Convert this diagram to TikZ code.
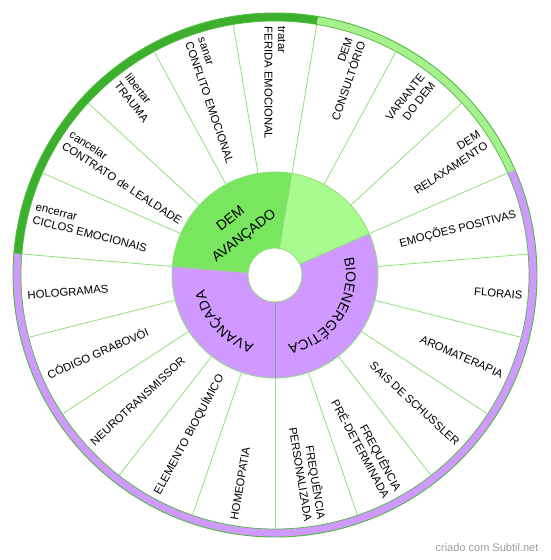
\documentclass[tikz,border=0pt]{standalone}
\usepackage{fontspec}
\setmainfont{Liberation Sans}
\usetikzlibrary{decorations.text}
\definecolor{ringdark}{HTML}{3CB02C}
\definecolor{ringlight}{HTML}{A6F08E}
\definecolor{lilac}{HTML}{CF99FF}
\definecolor{hubdark}{HTML}{78E65E}
\definecolor{hublight}{HTML}{A9FB8F}
\definecolor{spokegreen}{HTML}{8FDF7A}
\definecolor{bordergreen}{HTML}{4FBA3E}
\definecolor{wmgray}{HTML}{9A9A9A}
\tikzset{
  spoke/.style={draw=spokegreen, line width=0.8pt},
  outl/.style={font=\fontsize{11.3}{13.5}\selectfont, inner sep=0.5pt, anchor=west, align=left},
  outr/.style={font=\fontsize{11.3}{13.5}\selectfont, inner sep=0.5pt, anchor=east, align=right},
  hubtxt/.style={font=\fontsize{14}{22}\selectfont, align=center, inner sep=0pt},
}
\newcommand\ringseg[3]{%
  \fill[#3] (#1:262) arc[start angle=#1, end angle=#2, radius=262] -- (#2:254) arc[start angle=#2, end angle=#1, radius=254] -- cycle;}
\newcommand\hubseg[3]{%
  \fill[#3] (#1:103) arc[start angle=#1, end angle=#2, radius=103] -- (#2:27) arc[start angle=#2, end angle=#1, radius=27] -- cycle;}
\begin{document}
\begin{tikzpicture}[x=1pt,y=1pt]
\useasboundingbox (-275,-285) rectangle (275,275);
% outer ring
\ringseg{-184.737}{23.684}{lilac}
\ringseg{80.526}{175.263}{ringdark}
\ringseg{23.684}{80.526}{ringlight}
\draw[bordergreen, line width=0.9pt] (0,0) circle[radius=262];
\draw[bordergreen, line width=0.7pt] (0,0) circle[radius=254];
% spokes
\foreach \k in {0,...,18} {\draw[spoke] ({270-\k*360/19}:103) -- ({270-\k*360/19}:254);}
% hub
\hubseg{80.526}{175.263}{hubdark}
\hubseg{23.684}{80.526}{hublight}
\hubseg{-90}{23.684}{lilac}
\hubseg{175.263}{270}{lilac}
\draw[spoke] (0,0) circle[radius=103];
\draw[spoke] (80.526:27) -- (80.526:103);
\draw[spoke] (23.684:27) -- (23.684:103);
\draw[spoke] (175.263:27) -- (175.263:103);
\draw[draw=gray!80, line width=0.8pt] (270:27) -- (270:103);
\draw[spoke, fill=white] (0,0) circle[radius=27];
% hub texts
\node[hubtxt, rotate=37.9] (hubA) at (128.3:60) {DEM\\AVANÇADO};
\path[decorate, decoration={text along path, text align=center,
  text={|\fontsize{14}{16}\selectfont|BIOENERGÉTICA}}] (23.684:71) arc[start angle=23.684, end angle=-90, radius=71];
\path[decorate, decoration={text along path, text align=center,
  text={|\fontsize{14}{16}\selectfont|AVANÇADA}}] (270:72) arc[start angle=270, end angle=175.263, radius=72];
% outer labels
\node[outl, rotate=80.526] (l0) at (260.526:249) {HOMEOPATIA};
\node[outl, rotate=61.579] (l1) at (241.579:249) {ELEMENTO BIOQUÍMICO};
\node[outl, rotate=42.632] (l2) at (222.632:249) {NEUROTRANSMISSOR};
\node[outl, rotate=23.684] (l3) at (203.684:249) {CÓDIGO GRABOVÓI};
\node[outl, rotate=4.737] (l4) at (184.737:249) {HOLOGRAMAS};
\node[outl, rotate=-14.211] (l5) at (165.789:249) {encerrar\\CICLOS EMOCIONAIS};
\node[outl, rotate=-33.158] (l6) at (146.842:249) {cancelar\\CONTRATO de LEALDADE};
\node[outl, rotate=-52.105] (l7) at (127.895:249) {libertar\\TRAUMA};
\node[outl, rotate=-71.053] (l8) at (108.947:249) {sanar\\CONFLITO EMOCIONAL};
\node[outl, rotate=-90] (l9) at (90:249) {tratar\\FERIDA EMOCIONAL};
\node[outr, rotate=71.053] (l10) at (71.053:249) {DEM\\CONSULTÓRIO};
\node[outr, rotate=52.105] (l11) at (52.105:249) {VARIANTE\\DO DEM};
\node[outr, rotate=33.158] (l12) at (33.158:249) {DEM\\RELAXAMENTO};
\node[outr, rotate=14.211] (l13) at (14.211:249) {EMOÇÕES POSITIVAS};
\node[outr, rotate=-4.737] (l14) at (-4.737:249) {FLORAIS};
\node[outr, rotate=-23.684] (l15) at (-23.684:249) {AROMATERAPIA};
\node[outr, rotate=-42.632] (l16) at (-42.632:249) {SAIS DE SCHUSSLER};
\node[outr, rotate=-61.579] (l17) at (-61.579:249) {FREQUÊNCIA\\PRÉ-DETERMINADA};
\node[outr, rotate=-80.526] (l18) at (-80.526:249) {FREQUÊNCIA\\PERSONALIZADA};
% watermark
\node[font=\fontsize{11}{13}\selectfont, text=wmgray, inner sep=0pt] (wm) at (212,-273) {criado com Subtil.net};
\end{tikzpicture}
\end{document}
